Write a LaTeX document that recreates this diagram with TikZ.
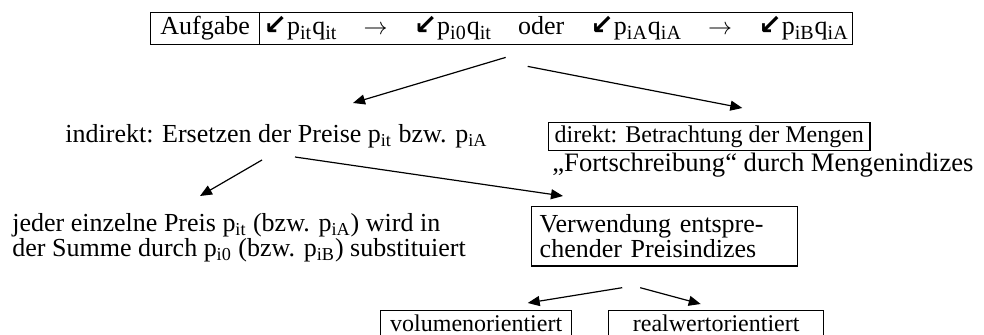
\documentclass[tikz,border=0pt]{standalone}
\usepackage{fontspec}
\setmainfont{Liberation Serif}
\newfontfamily\djvfont{DejaVu Sans}
\usetikzlibrary{arrows.meta}

\newcommand{\sumsign}{\raisebox{0.3pt}{\djvfont\bfseries\fontsize{14}{14}\selectfont ↙}}
\newcommand{\sx}[1]{\textsubscript{\fontsize{10}{10}\selectfont #1}}

\begin{document}
\begin{tikzpicture}[x=0.5pt, y=-0.5pt,
		box/.style={draw, line width=0.7pt, inner sep=3pt, font=\fontsize{12}{12.5}\selectfont},
		headbox/.style={box, anchor=north west, inner ysep=1.5pt, text height=9.5pt, text depth=3.5pt, font=\fontsize{13}{13}\selectfont},
		txt/.style={inner sep=0pt, font=\fontsize{13}{12.5}\selectfont},
		arr/.style={-{Triangle[length=6pt, width=5pt]}, line width=0.6pt}]
		\useasboundingbox (0,0) rectangle (984,335);

		\node[headbox, minimum width=54.5pt] (task) at (150,12) {Aufgabe};
		\node[headbox, inner xsep=2pt, text width=292.5pt] (formula) at (259,12)
			{\sumsign p\sx{it}q\sx{it}\hfill$\rightarrow$\hfill\sumsign p\sx{i0}q\sx{it}\hfill oder\hfill\sumsign p\sx{iA}q\sx{iA}\hfill$\rightarrow$\hfill\sumsign p\sx{iB}q\sx{iA}};

		\node[txt, anchor=base west] (indirect) at (65,143) {indirekt: Ersetzen der Preise p\textsubscript{it} bzw. p\textsubscript{iA}};
		\node[box, anchor=north west, inner ysep=1.5pt, text height=8.5pt, text depth=2.5pt] (direct) at (548,122) {direkt: Betrachtung der Mengen};
		\node[txt, anchor=base west, font=\fontsize{13.3}{13}\selectfont] (update) at (552,172) {„Fortschreibung“ durch Mengenindizes};

		\node[txt, anchor=north west, align=left] (single) at (12,213)
			{jeder einzelne Preis p\textsubscript{it} (bzw. p\textsubscript{iA}) wird in\\der Summe durch p\textsubscript{i0} (bzw. p\textsubscript{iB}) substituiert};
		\node[box, anchor=north west, text width=125pt, inner xsep=4pt, inner ysep=4pt, align=left, font=\fontsize{13}{12.5}\selectfont] (priceidx) at (531,206)
			{Verwendung entspre-\\chender Preisindizes};

		\node[box, anchor=north west, minimum width=95.5pt, inner ysep=2pt, text height=8.5pt, text depth=4pt] (volume) at (380,310) {volumenorientiert};
		\node[box, anchor=north west, minimum width=107.5pt, inner ysep=2pt, text height=8.5pt, text depth=4pt] (realvalue) at (608,310) {realwertorientiert};

		\draw[arr] ([shift={(-50.5,12)}]formula.south) -- ([shift={(288,-40)}]indirect.base west);
		\draw[arr] ([shift={(-28.5,21)}]formula.south) -- ([shift={(33,-14)}]direct.north);
		\draw[arr] ([shift={(197,17)}]indirect.base west) -- ([shift={(188,-17)}]single.north west);
		\draw[arr] ([shift={(230,14)}]indirect.base west) -- ([shift={(32,-10)}]priceidx.north west);
		\draw[arr] ([shift={(-42.5,21)}]priceidx.south) -- ([shift={(51.5,-7)}]volume.north);
		\draw[arr] ([shift={(-24.5,21)}]priceidx.south) -- ([shift={(-15.5,-6)}]realvalue.north);
	\end{tikzpicture}
\end{document}
